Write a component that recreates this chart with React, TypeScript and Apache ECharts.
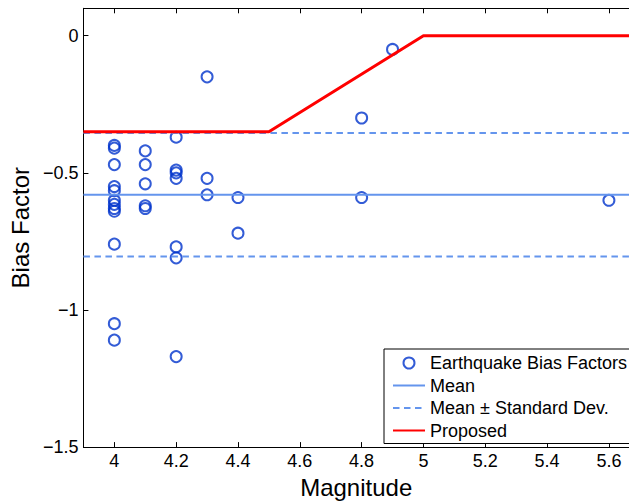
import React, { useEffect, useRef } from "react";
import * as echarts from "echarts";

// ---- data ----
const magnitudes = [
  4, 4, 4, 4, 4, 4, 4, 4, 4, 4, 4, 4,
  4.1, 4.1, 4.1, 4.1, 4.1,
  4.2, 4.2, 4.2, 4.2, 4.2, 4.2, 4.2,
  4.3, 4.3, 4.3,
  4.4, 4.4,
  4.8, 4.8,
  4.9,
  5.6,
];
const biasFactors = [
  -0.4, -0.41, -0.47, -0.55, -0.565, -0.6, -0.615, -0.63, -0.64, -0.76, -1.05, -1.11,
  -0.42, -0.47, -0.54, -0.62, -0.63,
  -0.37, -0.49, -0.5, -0.52, -0.77, -0.81, -1.17,
  -0.15, -0.52, -0.58,
  -0.59, -0.72,
  -0.3, -0.59,
  -0.05,
  -0.6,
];
const meanValue = -0.58;
const stdValue = 0.225;
const proposedX = [3.9, 4.5, 5.0, 5.665];
const proposedY = [-0.35, -0.35, 0, 0];
const xRange = [3.9, 5.665];
const yRange = [-1.5, 0.1];
const xTicks = [4, 4.2, 4.4, 4.6, 4.8, 5, 5.2, 5.4, 5.6];
const yTicks = [-1.5, -1, -0.5, 0];

const FONT = "Liberation Sans, Arial, Helvetica, sans-serif";
const LIGHT_BLUE = "#6495ED";
const MARKER_BLUE = "#0033cc";

export default function App() {
  const ref = useRef<HTMLDivElement>(null);
  useEffect(() => {
    if (!ref.current) return;
    const chart = echarts.init(ref.current, undefined, { renderer: "svg" });
    const scatterData = magnitudes.map((m, i) => [m, biasFactors[i]]);
    const hline = (v: number) => [
      [xRange[0], v],
      [xRange[1], v],
    ];
    const proposedData = proposedX.map((x, i) => [x, proposedY[i]]);
    const stdName = "Mean \u00B1 Standard Dev.";
    const hiddenSymbol = { color: "rgba(0,0,0,0)", borderWidth: 0, opacity: 0 };
    const xAxisCommon = {
      type: "value",
      min: xRange[0],
      max: xRange[1],
      splitLine: { show: false },
      axisLine: { show: true, onZero: false, lineStyle: { color: "#000", width: 1 } },
      axisTick: {
        show: true,
        inside: true,
        length: 5,
        customValues: xTicks,
        lineStyle: { color: "#000" },
      },
    };
    chart.setOption({
      animation: false,
      backgroundColor: "#fff",
      grid: { left: 82, right: 0, top: 8.3, bottom: 54.7, containLabel: false },
      xAxis: [
        {
          ...xAxisCommon,
          position: "bottom",
          name: "Magnitude",
          nameLocation: "middle",
          nameGap: 24,
          nameTextStyle: { fontSize: 24, fontFamily: FONT, color: "#000" },
          axisLabel: {
            show: true,
            customValues: xTicks,
            margin: 5,
            fontSize: 18,
            fontFamily: FONT,
            color: "#000",
          },
        },
        {
          ...xAxisCommon,
          position: "top",
          axisLabel: { show: false },
        },
      ],
      yAxis: {
        type: "value",
        min: yRange[0],
        max: yRange[1],
        position: "left",
        name: "Bias Factor",
        nameLocation: "middle",
        nameGap: 44,
        nameTextStyle: { fontSize: 24, fontFamily: FONT, color: "#000" },
        splitLine: { show: false },
        axisLine: { show: true, onZero: false, lineStyle: { color: "#000", width: 1 } },
        axisTick: {
          show: true,
          inside: true,
          length: 5,
          customValues: yTicks,
          lineStyle: { color: "#000" },
        },
        axisLabel: {
          show: true,
          customValues: yTicks,
          margin: 5,
          fontSize: 18,
          fontFamily: FONT,
          color: "#000",
          formatter: (v: number) => String(v).replace("-", "\u2212"),
        },
      },
      legend: {
        orient: "vertical",
        left: 384,
        top: 349,
        padding: [5, 40, 4, 8],
        itemWidth: 32,
        itemHeight: 11,
        itemGap: 4.5,
        backgroundColor: "#fff",
        borderColor: "#000",
        borderWidth: 1,
        borderRadius: 0,
        textStyle: { fontSize: 18, fontFamily: FONT, color: "#000" },
        data: [
          { name: "Earthquake Bias Factors" },
          { name: "Mean", itemStyle: hiddenSymbol },
          { name: stdName, itemStyle: hiddenSymbol },
          { name: "Proposed", itemStyle: hiddenSymbol },
        ],
      },
      series: [
        {
          name: "Earthquake Bias Factors",
          type: "scatter",
          data: scatterData,
          symbol: "circle",
          symbolSize: 11,
          itemStyle: { color: "rgba(255,255,255,0)", borderColor: MARKER_BLUE, borderWidth: 2 },
          z: 2,
        },
        {
          name: "Mean",
          type: "line",
          data: hline(meanValue),
          symbol: "none",
          lineStyle: { color: LIGHT_BLUE, width: 2 },
          itemStyle: { color: LIGHT_BLUE },
          z: 3,
        },
        {
          name: stdName,
          type: "line",
          data: hline(meanValue + stdValue),
          symbol: "none",
          lineStyle: { color: LIGHT_BLUE, width: 2, type: [6.5, 4.5] },
          itemStyle: { color: LIGHT_BLUE },
          z: 3,
        },
        {
          name: stdName,
          type: "line",
          data: hline(meanValue - stdValue),
          symbol: "none",
          lineStyle: { color: LIGHT_BLUE, width: 2, type: [6.5, 4.5] },
          itemStyle: { color: LIGHT_BLUE },
          z: 3,
        },
        {
          name: "Proposed",
          type: "line",
          data: proposedData,
          symbol: "none",
          lineStyle: { color: "#ff0000", width: 3 },
          itemStyle: { color: "#ff0000" },
          z: 4,
        },
      ],
    });
    return () => chart.dispose();
  }, []);
  return (
    <div
      ref={ref}
      style={{ position: "fixed", left: 0, top: 0, width: 629, height: 504 }}
    />
  );
}
